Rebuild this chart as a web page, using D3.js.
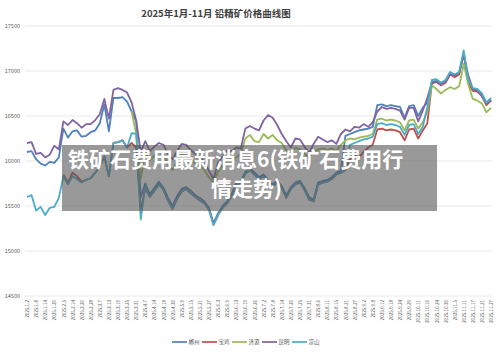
<!DOCTYPE html>
<html>
<head>
<meta charset="utf-8">
<script src="https://cdn.jsdelivr.net/npm/d3@7/dist/d3.min.js"></script>
<style>
  body { margin: 0; background: #fff; }
  text { font-family: "Noto Sans CJK SC", "Noto Sans", sans-serif; }
  .caption { text-rendering: optimizeSpeed; font-kerning: none; }
</style>
</head>
<body>
<div id="chart"></div>
<script>
var svgWidth = 500;
var svgHeight = 355;

var margin = { top: 26, right: 8, bottom: 59, left: 25 };
var width = svgWidth - margin.left - margin.right;
var height = svgHeight - margin.top - margin.bottom;

// tick labels on the x axis (one label every second point)
var dateLabels = ["2025.1.2", "2025.1.8", "2025.1.14", "2025.1.20", "2025.2.5", "2025.2.14", "2025.2.20",
  "2025.2.28", "2025.3.7", "2025.3.13", "2025.3.19", "2025.3.25", "2025.3.31", "2025.4.7", "2025.4.14",
  "2025.4.18", "2025.4.30", "2025.5.9", "2025.5.15", "2025.5.21", "2025.5.27", "2025.6.3", "2025.6.9",
  "2025.6.13", "2025.6.19", "2025.6.26", "2025.7.2", "2025.7.8", "2025.7.14", "2025.7.20", "2025.7.25",
  "2025.7.31", "2025.8.6", "2025.8.11", "2025.8.15", "2025.8.21", "2025.8.27", "2025.9.2", "2025.9.8",
  "2025.9.12", "2025.9.18", "2025.9.24", "2025.9.29", "2025.10.11", "2025.10.16", "2025.10.24",
  "2025.10.30", "2025.11.5", "2025.11.11", "2025.11.17", "2025.11.21", "2025.11.27"];

var yTicks = [14500, 15000, 15500, 16000, 16500, 17000, 17500];

var seriesNames = ["郴州", "宝鸡", "济源", "昆明", "凉山"];
var seriesColors = ["#4f81bd", "#c0504d", "#9bbb59", "#8064a2", "#4bacc6"];

var chenzhou = [16100, 16110, 16020, 15970, 15950, 15990, 15980, 16040, 16360, 16260, 16330, 16340, 16270, 16280,
  16320, 16340, 16420, 16630, 16330, 16700, 16700, 16710, 16660, 16550, 16440, 15600, 15750, 15630, 15700, 15770,
  15700, 15590, 15500, 15610, 15690, 15710, 15670, 15620, 15590, 15550, 15480, 15310, 15420, 15500, 15550, 15630,
  15760, 15780, 15880, 15920, 15870, 15820, 15850, 15790, 15740, 15780, 15720, 15620, 15710, 15760, 15780, 15700,
  15600, 15570, 15760, 15780, 15790, 15820, 15870, 15890, 16280, 16300, 16320, 16340, 16350, 16360, 16380, 16620,
  16630, 16610, 16620, 16610, 16600, 16480, 16610, 16620, 16500, 16590, 16650, 16880, 16890, 16850, 16880, 16970,
  16940, 16970, 17200, 16880, 16790, 16780, 16730, 16630, 16680];

var baoji = [null, null, null, null, null, null, null, null, 15850, 15760, 15870, 15830, 15770, 15790,
  15810, 15870, 15940, 16050, 15830, 16200, 16210, 16230, 16150, 16200, 16150, 15450, 15700, 15600, 15670, 15740,
  15680, 15560, 15470, 15580, 15660, 15690, 15640, 15600, 15560, 15530, 15460, 15290, 15400, 15480, 15530, 15610,
  15740, 15760, 15860, 15900, 15850, 15800, 15830, 15770, 15720, 15760, 15700, 15590, 15690, 15740, 15760, 15680,
  15570, 15550, 15740, 15760, 15770, 15800, 15850, 15870, 15900, 16020, 16060, 16040, 16100, 16150, 16180, 16350,
  16360, 16340, 16350, 16340, 16320, 16230, 16350, 16360, 16250, 16340, 16420, 16860, 16880, 16840, 16870, 16960,
  16930, 16960, 17190, 16870, 16780, 16770, 16720, 16620, 16670];

var jiyuan = [null, null, null, null, null, null, null, null, null, null, null, null, null, null,
  null, null, null, null, null, null, null, null, null, 16550, 16300, 15800, 16090, 16010, 16060, 16110,
  16070, 15960, 15900, 15990, 16080, 16060, 16010, 15970, 15960, 15900, 15820, 15760, 15880, 15950, 16010, 16000,
  16040, 16080, 16250, 16290, 16220, 16210, 16300, 16250, 16290, 16230, 16200, 16120, 16090, 16150, 16130, 16080,
  16040, 16100, 16130, 16140, 16120, 16140, 16110, 16180, 16230, 16250, 16240, 16260, 16270, 16280, 16300, 16460,
  16470, 16450, 16460, 16450, 16430, 16340, 16450, 16460, 16360, 16430, 16550, 16840, 16800, 16750, 16790, 16820,
  16800, 16830, 17080, 16850, 16690, 16670, 16640, 16540, 16590];

var kunming = [16200, 16210, 16080, 16090, 16040, 16070, 16170, 16130, 16440, 16400, 16455, 16420, 16370, 16410,
  16410, 16455, 16520, 16690, 16470, 16790, 16810, 16790, 16760, 16650, 16450, 16100, 16220, 16110, 16160, 16200,
  16180, 16080, 16020, 16110, 16190, 16180, 16120, 16080, 16050, 15990, 15890, 15800, 15980, 16050, 16120, 16110,
  16150, 16140, 16360, 16390, 16360, 16340, 16450, 16510, 16480, 16400, 16300, 16220, 16150, 16250, 16240, 16160,
  16090, 16190, 16270, 16240, 16210, 16230, 16190, 16300, 16350, 16330, 16380, 16370, 16410, 16380, 16430, 16550,
  16600, 16580, 16590, 16580, 16560, 16460, 16590, 16590, 16440, 16560, 16700, 16870, 16880, 16850, 16880, 16960,
  16950, 16980, 17180, 16950, 16800, 16790, 16720, 16640, 16680];

var liangshan = [15600, 15620, 15450, 15490, 15400, 15480, 15490, 15590, 15830, 15740, 15830, 15800, 15760, 15790,
  15810, 15870, 15940, 16050, 15830, 16200, 16210, 16230, 16150, 16310, 16300, 15350, 15720, 15600, 15670, 15740,
  15680, 15560, 15470, 15580, 15660, 15690, 15640, 15600, 15560, 15530, 15460, 15290, 15400, 15480, 15530, 15610,
  15740, 15760, 15860, 15900, 15850, 15800, 15830, 15770, 15720, 15760, 15700, 15600, 15690, 15740, 15760, 15680,
  15580, 15550, 15740, 15760, 15770, 15800, 15850, 15870, 15900, 16180, 16200, 16220, 16240, 16250, 16270, 16410,
  16420, 16400, 16410, 16400, 16380, 16290, 16400, 16410, 16300, 16380, 16600, 16900, 16910, 16870, 16900, 16990,
  16960, 16990, 17230, 16900, 16810, 16800, 16750, 16650, 16700];

var allSeries = [chenzhou, baoji, jiyuan, kunming, liangshan];
var nPoints = chenzhou.length;

var svg = d3.select("#chart")
  .append("svg")
  .attr("width", svgWidth)
  .attr("height", svgHeight);

// title
svg.append("text")
  .attr("x", 216)
  .attr("y", 17)
  .attr("text-anchor", "middle")
  .attr("font-size", "9.5px")
  .attr("font-weight", "bold")
  .attr("fill", "#404040")
  .text("2025年1月-11月 铅精矿价格曲线图");

var chartGroup = svg.append("g")
  .attr("transform", `translate(${margin.left}, ${margin.top})`);

var xScale = d3.scaleLinear()
  .domain([0, nPoints - 1])
  .range([2, width - 1]);

var yScale = d3.scaleLinear()
  .domain([14500, 17500])
  .range([height, 0]);

// grid lines
chartGroup.append("g")
  .selectAll("line")
  .data(yTicks)
  .enter()
  .append("line")
  .attr("x1", 0)
  .attr("x2", width)
  .attr("y1", d => yScale(d))
  .attr("y2", d => yScale(d))
  .attr("stroke", "#e3e3e3")
  .attr("stroke-width", 0.8);

// y axis, plain numbers without thousands comma
var leftAxis = d3.axisLeft(yScale)
  .tickValues(yTicks)
  .tickFormat(d3.format("d"))
  .tickSize(0)
  .tickPadding(5);
chartGroup.append("g")
  .call(leftAxis)
  .call(g => g.select(".domain").remove())
  .selectAll("text")
  .attr("font-size", "5.5px")
  .attr("fill", "#595959");

// x axis, labels turned upright
var bottomAxis = d3.axisBottom(xScale)
  .tickValues(d3.range(0, nPoints, 2))
  .tickFormat(i => dateLabels[i / 2])
  .tickSize(0);
chartGroup.append("g")
  .attr("transform", `translate(0, ${height})`)
  .call(bottomAxis)
  .call(g => g.select(".domain").remove())
  .selectAll("text")
  .attr("transform", "rotate(-90)")
  .attr("text-anchor", "end")
  .attr("x", -4)
  .attr("y", 0)
  .attr("dy", "0.35em")
  .attr("font-size", "4.6px")
  .attr("fill", "#595959");

// lines
var line = d3.line()
  .defined(d => d != null)
  .x((d, i) => xScale(i))
  .y(d => yScale(d));

chartGroup.append("g")
  .selectAll("path")
  .data(allSeries)
  .enter()
  .append("path")
  .attr("d", d => line(d))
  .attr("fill", "none")
  .attr("stroke", (d, i) => seriesColors[i])
  .attr("stroke-width", 1.8)
  .attr("stroke-linejoin", "round");

// legend
var legend = svg.append("g")
  .selectAll("g")
  .data(seriesNames)
  .enter()
  .append("g")
  .attr("transform", (d, i) => `translate(${172 + i * 30}, 342)`);

legend.append("line")
  .attr("x1", 0)
  .attr("x2", 15)
  .attr("stroke", (d, i) => seriesColors[i])
  .attr("stroke-width", 1.7);

legend.append("text")
  .attr("x", 16.5)
  .attr("dy", "0.35em")
  .attr("font-size", "5.5px")
  .attr("fill", "#595959")
  .text(d => d);

// grey caption box laid over the chart
svg.append("rect")
  .attr("x", 62)
  .attr("y", 145)
  .attr("width", 375)
  .attr("height", 66)
  .attr("fill", "#555")
  .attr("fill-opacity", 0.6);

// first line is split in two pieces so the CJK run after "(" is shaped on its own
var caption = svg.append("g")
  .attr("class", "caption")
  .attr("font-size", "21px")
  .attr("font-weight", "bold")
  .attr("fill", "#fff");

var firstLine = caption.append("text")
  .attr("x", 68)
  .attr("y", 167);
firstLine.append("tspan").text("铁矿石费用最新消息6(");
firstLine.append("tspan").text("铁矿石费用行");

caption.append("text")
  .attr("x", 211)
  .attr("y", 196)
  .text("情走势)");
</script>
</body>
</html>
